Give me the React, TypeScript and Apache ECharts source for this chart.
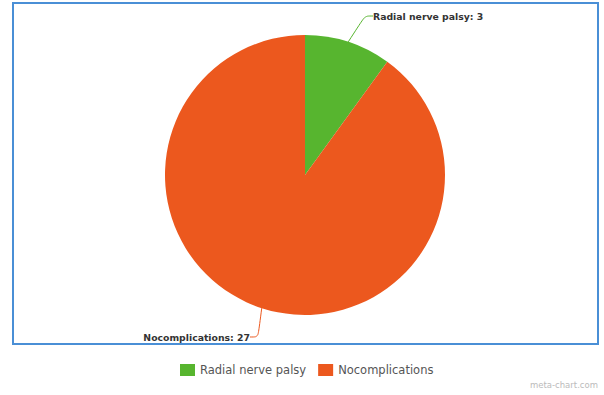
import React, { useEffect, useRef } from "react";
import * as echarts from "echarts";

const categories = ["Radial nerve palsy", "Nocomplications"];
const values = [3, 27];
const colors = ["#57b52f", "#ec581e"];

export default function App() {
  const ref = useRef<HTMLDivElement>(null);
  useEffect(() => {
    if (!ref.current) return;
    const chart = echarts.init(ref.current, null, { renderer: "svg" });
    chart.setOption({
      animation: false,
      backgroundColor: "#ffffff",
      color: colors,
      legend: {
        top: 364,
        left: 180,
        padding: 0,
        itemWidth: 15,
        itemHeight: 12,
        itemGap: 12,
        icon: "rect",
        textStyle: { fontFamily: "DejaVu Sans", fontSize: 11.5, color: "#555" },
        data: categories,
      },
      graphic: [
        {
          type: "rect",
          shape: { x: 13, y: 3, width: 585, height: 341 },
          style: { fill: "none", stroke: "#4a8fd6", lineWidth: 2 },
          silent: true,
        },
        {
          type: "text",
          right: 6,
          bottom: 6,
          style: {
            text: "meta-chart.com",
            fill: "#bbb",
            fontSize: 8.5,
            fontFamily: "DejaVu Sans",
          },
        },
      ],
      series: [
        {
          type: "pie",
          center: [305, 175],
          radius: [0, 140],
          startAngle: 90,
          clockwise: true,
          data: categories.map((n, i) => ({ name: n, value: values[i] })),
          label: {
            show: true,
            formatter: "{b}: {c}",
            fontFamily: "DejaVu Sans",
            fontWeight: "bold",
            fontSize: 9.3,
            color: "#333",
          },
          labelLine: { show: true, smooth: true, length: 20, length2: 8, lineStyle: { width: 1 } },
          labelLayout: (params: any) => {
            if (params.dataIndex === 0) {
              return { x: 373, y: 16, align: "left", verticalAlign: "middle" };
            }
            return { x: 250, y: 337, align: "right", verticalAlign: "middle" };
          },
          itemStyle: { borderWidth: 0 },
          emphasis: { disabled: true },
        },
      ],
    });
    return () => chart.dispose();
  }, []);
  return (
    <div
      ref={ref}
      style={{ position: "fixed", left: 0, top: 0, width: 604, height: 395 }}
    />
  );
}
